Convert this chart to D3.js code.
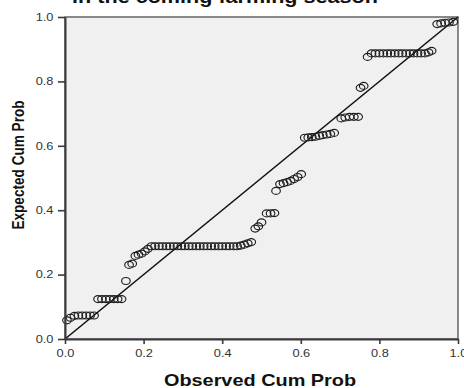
<!DOCTYPE html>
<html>
<head>
<meta charset="utf-8">
<script src="https://cdn.jsdelivr.net/npm/d3@7"></script>
<style>
  html, body { margin: 0; padding: 0; background: #fff; }
  svg { display: block; }
  text { font-family: "Liberation Sans", Arial, sans-serif; }
</style>
</head>
<body>
<svg id="chart" width="464" height="388"></svg>
<script>
// Normal P-P plot: observed vs expected cumulative probability
const titleText = "in the coming farming season";
const xLabel = "Observed Cum Prob";
const yLabel = "Expected Cum Prob";
const xTicks = [0, 0.2, 0.4, 0.6, 0.8, 1.0];
const yTicks = [0, 0.2, 0.4, 0.6, 0.8, 1.0];

const observedCumProb = [
  0.005, 0.014,
  0.024, 0.034, 0.044, 0.054, 0.064, 0.074,
  0.084, 0.094, 0.104, 0.114, 0.124, 0.134, 0.144,
  0.155, 0.163, 0.171, 0.179, 0.187, 0.195, 0.203, 0.211,
  0.220, 0.229, 0.239, 0.248, 0.258, 0.267, 0.277, 0.286, 0.296, 0.305, 0.315, 0.324,
  0.334, 0.343, 0.353, 0.362, 0.372, 0.381, 0.391, 0.400, 0.410, 0.419, 0.429, 0.438,
  0.447, 0.456, 0.465, 0.474,
  0.484, 0.492, 0.500,
  0.513, 0.523, 0.533,
  0.537, 0.547, 0.556, 0.565, 0.574, 0.583, 0.592, 0.601,
  0.610, 0.619, 0.628, 0.637, 0.647, 0.656, 0.666, 0.675, 0.685,
  0.703, 0.713, 0.724, 0.735, 0.746,
  0.752, 0.760,
  0.770, 0.780, 0.790, 0.800, 0.810, 0.820, 0.829, 0.839, 0.849, 0.858, 0.868, 0.878,
  0.887, 0.897, 0.906, 0.916, 0.925, 0.933,
  0.947, 0.957, 0.967, 0.977, 0.988
];
const expectedCumProb = [
  0.058, 0.066,
  0.072, 0.073, 0.073, 0.073, 0.073, 0.073,
  0.124, 0.124, 0.124, 0.124, 0.124, 0.124, 0.124,
  0.180, 0.230, 0.234, 0.258, 0.262, 0.265, 0.272, 0.280,
  0.288, 0.288, 0.288, 0.288, 0.288, 0.288, 0.288, 0.288, 0.288, 0.288, 0.288, 0.288,
  0.288, 0.288, 0.288, 0.288, 0.288, 0.288, 0.288, 0.288, 0.288, 0.288, 0.288, 0.288,
  0.290, 0.293, 0.297, 0.301,
  0.343, 0.350, 0.362,
  0.390, 0.390, 0.391,
  0.460, 0.481, 0.484, 0.487, 0.491, 0.497, 0.503, 0.512,
  0.625, 0.626, 0.627, 0.628, 0.631, 0.633, 0.635, 0.637, 0.640,
  0.685, 0.688, 0.690, 0.690, 0.690,
  0.780, 0.786,
  0.876, 0.887, 0.887, 0.887, 0.887, 0.887, 0.887, 0.887, 0.887, 0.887, 0.887, 0.887,
  0.887, 0.887, 0.887, 0.887, 0.890, 0.895,
  0.978, 0.980, 0.982, 0.983, 0.985
];

const points = observedCumProb.map((o, i) => ({ o, e: expectedCumProb[i] }));

const svg = d3.select("#chart");
const stretch = 1.22; // horizontal glyph stretch of the chart text

const plotLeft = 65, plotRight = 458, plotTop = 17, plotBottom = 339;
const x = d3.scaleLinear().domain([0, 1]).range([plotLeft, plotRight]);
const y = d3.scaleLinear().domain([0, 1]).range([plotBottom, plotTop]);

// plot area
svg.append("rect")
  .attr("x", plotLeft).attr("y", plotTop)
  .attr("width", plotRight - plotLeft).attr("height", plotBottom - plotTop)
  .attr("fill", "#f0f0f0")
  .attr("stroke", "#5a5a5a")
  .attr("stroke-width", 1.4);

// reference diagonal
svg.append("line")
  .attr("x1", x(0)).attr("y1", y(0))
  .attr("x2", x(1)).attr("y2", y(1))
  .attr("stroke", "#111")
  .attr("stroke-width", 1.6);

// points
svg.append("g")
  .selectAll("ellipse")
  .data(points)
  .join("ellipse")
  .attr("cx", d => x(d.o))
  .attr("cy", d => y(d.e))
  .attr("rx", 4.3)
  .attr("ry", 3.5)
  .attr("fill", "none")
  .attr("stroke", "#1e1e1e")
  .attr("stroke-width", 1.15);

// axes
const fmt = d3.format(".1f");
const yAxis = svg.append("g")
  .attr("transform", `translate(${plotLeft},0)`)
  .call(d3.axisLeft(y).tickValues(yTicks).tickFormat(fmt).tickSize(7).tickSizeOuter(0));
const xAxis = svg.append("g")
  .attr("transform", `translate(0,${plotBottom})`)
  .call(d3.axisBottom(x).tickValues(xTicks).tickFormat(fmt).tickSize(5).tickPadding(6).tickSizeOuter(0));

[yAxis, xAxis].forEach(g => {
  g.select(".domain").attr("stroke", "#3a3a3a").attr("stroke-width", 2);
  g.selectAll(".tick line").attr("stroke", "#3a3a3a").attr("stroke-width", 1.6);
  g.selectAll(".tick text")
    .attr("font-family", "Liberation Sans, Arial, sans-serif")
    .attr("font-size", 10.5)
    .attr("fill", "#333");
});
yAxis.selectAll(".tick text")
  .attr("x", 0)
  .attr("transform", `translate(-11.5,0) scale(${stretch},1)`);
xAxis.selectAll(".tick text")
  .attr("transform", `scale(${stretch},1)`);

// title (clipped at the top edge)
svg.append("text")
  .attr("transform", `translate(225,3) scale(${stretch},1)`)
  .attr("text-anchor", "middle")
  .attr("font-weight", "bold")
  .attr("font-size", 17.7)
  .attr("fill", "#111")
  .text(titleText);

// axis titles
svg.append("text")
  .attr("transform", `translate(260,385.5) scale(${stretch},1)`)
  .attr("text-anchor", "middle")
  .attr("font-weight", "bold")
  .attr("font-size", 16.3)
  .attr("fill", "#111")
  .text(xLabel);

svg.append("text")
  .attr("transform", `translate(24,165) scale(${stretch},1) rotate(-90)`)
  .attr("text-anchor", "middle")
  .attr("font-weight", "bold")
  .attr("font-size", 13.6)
  .attr("fill", "#111")
  .text(yLabel);
</script>
</body>
</html>
